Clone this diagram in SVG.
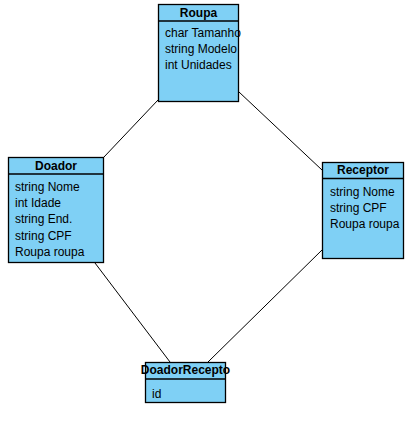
<svg xmlns="http://www.w3.org/2000/svg" width="418" height="430" viewBox="0 0 418 430">
<style>
.box{fill:#7fd0f5;stroke:#000;stroke-width:1.3}
.sep{stroke:#000;stroke-width:1.3}
.hd{font-family:"Liberation Sans",Arial,sans-serif;font-size:12px;font-weight:bold;text-anchor:middle;fill:#000}
.at{font-family:"Liberation Sans",Arial,sans-serif;font-size:12px;fill:#000}
.conn line{stroke:#000;stroke-width:1}
</style>
<rect width="418" height="430" fill="#fff"/>
<g class="conn" id="connectors">
<line x1="104" y1="157" x2="158" y2="100"/>
<line x1="239" y1="92" x2="322" y2="170"/>
<line x1="95" y1="263" x2="170" y2="362"/>
<line x1="322" y1="250" x2="208" y2="362"/>
</g>
<g id="Roupa">
<rect class="box" x="158.5" y="4.5" width="80" height="97"/>
<line class="sep" x1="158.5" y1="21" x2="238.5" y2="21"/>
<text class="hd" x="198.5" y="17">Roupa</text>
<text class="at" x="165" y="37">char Tamanho</text>
<text class="at" x="165" y="53">string Modelo</text>
<text class="at" x="165" y="69">int Unidades</text>
</g>
<g id="Doador">
<rect class="box" x="8.5" y="157.5" width="95" height="105"/>
<line class="sep" x1="8.5" y1="174" x2="103.5" y2="174"/>
<text class="hd" x="56" y="170">Doador</text>
<text class="at" x="15" y="191">string Nome</text>
<text class="at" x="15" y="207">int Idade</text>
<text class="at" x="15" y="223">string End.</text>
<text class="at" x="15" y="240">string CPF</text>
<text class="at" x="15" y="256">Roupa roupa</text>
</g>
<g id="Receptor">
<rect class="box" x="322.5" y="162.5" width="81" height="96"/>
<line class="sep" x1="322.5" y1="178.5" x2="403.5" y2="178.5"/>
<text class="hd" x="363" y="174">Receptor</text>
<text class="at" x="330" y="196">string Nome</text>
<text class="at" x="330" y="212">string CPF</text>
<text class="at" x="330" y="228">Roupa roupa</text>
</g>
<g id="DoadorRecepto">
<rect class="box" x="145.5" y="362.5" width="80" height="40"/>
<line class="sep" x1="145.5" y1="379" x2="225.5" y2="379"/>
<text class="hd" x="185.5" y="374">DoadorRecepto</text>
<text class="at" x="152" y="398">id</text>
</g>
</svg>
